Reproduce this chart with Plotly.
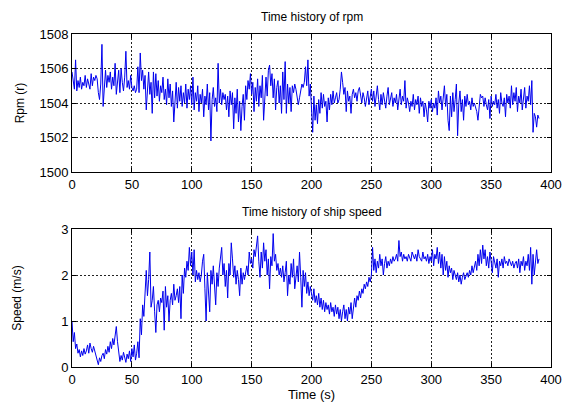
import plotly.graph_objects as go
from plotly.subplots import make_subplots

rpm = [
    1505.8, 1505.2, 1504.8, 1506.5, 1504.7, 1505.3, 1504.9, 1505.5, 1504.8, 1505.2,
    1505.0, 1505.6, 1504.9, 1505.4, 1505.1, 1504.8, 1505.7, 1505.0, 1505.5, 1505.3,
    1505.6, 1505.4, 1504.6, 1504.2, 1505.1, 1507.4, 1503.8, 1505.2, 1505.9, 1504.9,
    1505.6, 1505.2, 1505.8, 1504.8, 1505.5, 1505.0, 1506.3, 1504.5, 1505.4, 1505.9,
    1504.6, 1506.0, 1505.2, 1504.7, 1505.5, 1507.0, 1504.9, 1505.3, 1504.8, 1505.6,
    1504.9, 1504.7, 1505.0, 1504.6, 1504.8, 1506.1, 1504.6, 1506.9, 1505.3, 1505.9,
    1504.8, 1505.6, 1503.6, 1504.9, 1505.8, 1504.5, 1505.2, 1503.4, 1505.8, 1504.3,
    1505.7, 1504.4, 1505.3, 1504.1, 1505.0, 1504.6, 1505.5, 1504.2, 1504.8, 1503.9,
    1505.4, 1504.3, 1505.1, 1503.8, 1504.7, 1502.9, 1504.4, 1505.2, 1503.7, 1504.9,
    1504.1, 1505.0, 1503.8, 1504.6, 1504.0, 1505.1, 1503.7, 1504.8, 1504.2, 1505.0,
    1503.9, 1505.5, 1503.6, 1504.6, 1504.1, 1505.0, 1503.5, 1504.5, 1504.0, 1504.8,
    1503.2, 1504.4, 1503.9, 1505.1, 1503.6, 1504.6, 1501.8, 1504.2, 1504.9, 1503.8,
    1504.3, 1503.5, 1506.3, 1504.0, 1504.8, 1503.9, 1504.6, 1504.2, 1504.5, 1503.6,
    1504.4, 1503.2, 1504.7, 1503.9, 1504.6, 1502.5, 1504.3, 1503.4, 1504.8, 1502.9,
    1504.1, 1502.4, 1503.8, 1504.5, 1503.0, 1505.0, 1504.2, 1505.3, 1504.8, 1505.7,
    1504.5, 1505.2, 1503.5, 1504.9, 1504.1, 1505.4, 1503.8, 1505.0, 1504.3, 1505.6,
    1503.0, 1504.8, 1505.5, 1504.4, 1505.9, 1506.2, 1505.0, 1505.7, 1504.3, 1505.4,
    1503.6, 1504.9, 1505.3, 1504.0, 1505.0, 1503.4, 1505.8, 1504.2, 1506.4, 1503.4,
    1505.1, 1504.0, 1504.9, 1503.5, 1505.0, 1504.6, 1505.1, 1504.8, 1504.4, 1503.9,
    1504.3, 1504.7, 1505.1, 1504.9, 1505.2, 1506.1, 1505.0, 1506.5, 1504.4, 1505.1,
    1503.5, 1502.3, 1504.4, 1503.0, 1503.9, 1502.8, 1504.2, 1503.4, 1504.6, 1503.7,
    1504.5, 1503.8, 1504.1, 1502.9, 1504.3, 1503.6, 1504.5, 1503.9, 1504.7, 1504.0,
    1504.3, 1504.6, 1504.0, 1504.2, 1504.8, 1505.8, 1505.2, 1504.5, 1504.9, 1503.5,
    1504.7, 1504.1, 1504.4, 1503.4, 1504.5, 1504.8, 1504.3, 1504.6, 1504.1, 1504.7,
    1504.9, 1504.4, 1504.0, 1504.6, 1504.3, 1503.8, 1504.2, 1504.7, 1503.9, 1504.5,
    1504.8, 1504.1, 1504.7, 1503.8, 1504.4, 1505.0, 1504.2, 1503.6, 1504.5, 1503.9,
    1504.6, 1504.1, 1503.7, 1504.4, 1504.9, 1503.9, 1504.2, 1504.6, 1503.8, 1504.3,
    1504.0, 1504.5, 1503.6, 1504.2, 1504.8, 1503.9, 1504.4, 1504.1, 1505.3, 1503.7,
    1504.3, 1504.0, 1503.5, 1504.1, 1503.8, 1504.5, 1503.6, 1504.2, 1503.9, 1504.4,
    1503.4, 1504.3, 1503.8, 1504.1, 1503.2, 1504.0, 1503.6, 1502.9, 1504.1, 1503.7,
    1504.2, 1503.5, 1504.0, 1503.7, 1504.3, 1503.3, 1504.7, 1504.0, 1504.4, 1503.6,
    1504.2, 1505.0, 1503.8, 1504.5, 1503.0, 1502.4, 1504.4, 1503.2, 1504.6, 1503.5,
    1504.2, 1505.1, 1502.1, 1504.0, 1504.7, 1503.5, 1504.2, 1503.0, 1504.4, 1503.8,
    1504.5, 1503.9, 1504.1, 1503.6, 1504.3, 1503.8, 1504.0, 1503.7, 1503.5, 1503.0,
    1503.9, 1504.5, 1504.3, 1504.4, 1503.8, 1504.3, 1503.9, 1503.6, 1504.2, 1503.1,
    1504.4, 1503.8, 1504.1, 1503.9, 1504.5, 1503.7, 1504.2, 1503.4, 1504.6, 1504.0,
    1503.8, 1504.3, 1503.2, 1504.5, 1504.0, 1504.4, 1503.7, 1505.0, 1503.9, 1504.6,
    1504.1, 1504.9, 1503.5, 1504.4, 1504.0, 1504.8, 1503.6, 1504.3, 1504.9, 1503.7,
    1504.4, 1504.1, 1505.0, 1503.9, 1505.3, 1502.3, 1503.4, 1503.2, 1502.6, 1503.3,
    1503.1,
]

speed = [
    1.00, 0.55, 0.75, 0.40, 0.50, 0.30, 0.38, 0.22, 0.35, 0.25,
    0.40, 0.28, 0.35, 0.48, 0.30, 0.52, 0.40, 0.32, 0.45, 0.35,
    0.28, 0.18, 0.05, 0.20, 0.12, 0.25, 0.30, 0.18, 0.38, 0.28,
    0.45, 0.32, 0.55, 0.40, 0.62, 0.48, 0.75, 0.88, 0.55, 0.30,
    0.12, 0.25, 0.15, 0.32, 0.20, 0.10, 0.28, 0.18, 0.35, 0.12,
    0.40, 0.22, 0.48, 0.15, 0.30, 0.55, 0.20, 1.05, 0.70, 1.35,
    1.10, 1.50, 2.10, 1.55, 1.90, 2.50, 1.30, 1.45, 1.75, 1.20,
    0.75, 1.35, 1.45, 1.20, 1.50, 1.40, 1.65, 0.80, 1.75, 1.30,
    1.55, 1.00, 1.45, 1.60, 1.35, 1.80, 1.45, 1.55, 1.70, 1.40,
    1.75, 1.05, 2.00, 1.60, 2.15, 1.95, 2.30, 2.10, 2.60, 2.20,
    2.50, 2.00, 2.55, 1.85, 2.10, 1.90, 2.05, 1.85, 2.00, 2.30,
    2.45, 1.70, 1.00, 2.05, 1.45, 1.20, 2.10, 1.80, 2.20, 1.60,
    1.35, 2.05, 1.75, 2.15, 2.40, 2.60, 2.00, 2.25, 1.75, 2.10,
    1.50, 2.25, 2.00, 2.70, 2.35, 1.95, 2.20, 1.80, 2.10, 1.90,
    1.55, 2.15, 1.80, 2.05, 1.90, 2.05, 2.20, 2.00, 2.50, 2.25,
    2.35, 2.15, 2.55, 2.40, 2.60, 2.85, 2.30, 1.95, 2.50, 2.15,
    2.70, 2.30, 2.55, 2.00, 2.35, 1.70, 2.40, 2.20, 2.90, 2.30,
    2.45, 2.10, 2.25, 2.00, 2.15, 1.95, 2.20, 1.85, 2.05, 2.30,
    1.55, 2.00, 1.80, 2.25, 1.95, 2.35, 1.70, 2.05, 2.20, 1.85,
    2.50, 1.95, 1.30, 2.10, 1.75, 2.05, 1.60, 1.85, 1.55, 1.75,
    1.60, 1.45, 1.70, 1.40, 1.55, 1.35, 1.60, 1.30, 1.50, 1.25,
    1.45, 1.20, 1.40, 1.25, 1.35, 1.15, 1.40, 1.20, 1.30, 1.10,
    1.35, 1.15, 1.30, 1.05, 1.25, 1.00, 1.20, 1.35, 1.05, 1.25,
    1.00, 1.30, 1.15, 1.40, 1.05, 1.35, 1.50, 1.30, 1.55, 1.45,
    1.65, 1.50, 1.70, 1.60, 1.80, 1.70, 1.85, 1.75, 1.95, 1.85,
    2.00, 2.60, 2.10, 2.35, 2.05, 2.30, 2.15, 2.45, 2.20, 2.35,
    2.00, 2.25, 2.40, 2.15, 2.30, 2.20, 2.35, 2.25, 2.40, 2.30,
    2.35, 2.45, 2.30, 2.75, 2.40, 2.50, 2.30, 2.45, 2.35, 2.40,
    2.30, 2.45, 2.35, 2.30, 2.50, 2.40, 2.35, 2.45, 2.30, 2.55,
    2.40, 2.35, 2.30, 2.50, 2.35, 2.40, 2.30, 2.45, 2.25, 2.40,
    2.30, 2.55, 2.20, 2.45, 2.35, 2.60, 2.25, 2.50, 2.15, 2.45,
    2.00, 2.40, 2.10, 2.30, 1.95, 2.20, 2.05, 2.15, 1.90, 2.10,
    2.00, 1.90, 2.05, 1.85, 2.00, 1.80, 1.95, 2.05, 1.90, 2.00,
    2.05, 1.95, 2.10, 2.00, 2.20, 2.05, 2.15, 2.30, 2.10, 2.45,
    2.20, 2.55, 2.25, 2.65, 2.35, 2.55, 2.20, 2.40, 2.15, 2.50,
    2.30, 2.05, 2.40, 2.25, 2.15, 2.35, 1.95, 2.30, 2.20, 2.35,
    2.15, 2.40, 2.25, 2.30, 2.20, 2.35, 2.25, 2.20, 2.30, 2.15,
    2.25, 2.30, 2.15, 2.35, 2.05, 2.30, 2.20, 2.40, 2.10, 2.30,
    2.20, 2.45, 2.10, 2.60, 1.80, 2.45, 2.00, 2.35, 2.55, 2.25,
    2.35,
]

time_s = list(range(len(rpm)))

x_ticks = [0, 50, 100, 150, 200, 250, 300, 350, 400]
rpm_ticks = [1500, 1502, 1504, 1506, 1508]
speed_ticks = [0, 1, 2, 3]

titles = ["Time history of rpm", "Time history of ship speed"]
x_label = "Time (s)"
y_labels = ["Rpm (r)", "Speed (m/s)"]

FONT = "Liberation Sans, Arial, sans-serif"

fig = make_subplots(rows=2, cols=1, vertical_spacing=0.1712)
fig.add_trace(go.Scatter(x=time_s, y=rpm, mode="lines",
                         line=dict(color="#0000EE", width=1), showlegend=False), row=1, col=1)
fig.add_trace(go.Scatter(x=time_s[:len(speed)], y=speed, mode="lines",
                         line=dict(color="#0000EE", width=1), showlegend=False), row=2, col=1)

axis_common = dict(
    showline=True, linecolor="black", linewidth=1, mirror="ticks",
    ticks="inside", ticklen=4, tickcolor="black", automargin=False,
    showgrid=True, gridcolor="#222222", gridwidth=1, griddash="2px,2px",
    zeroline=False, tickfont=dict(family=FONT, size=13, color="black"),
)

fig.update_xaxes(range=[0, 400], tickvals=x_ticks, domain=[0, 1], **axis_common)
fig.update_xaxes(title_text=x_label, title_font=dict(family=FONT, size=13, color="black"),
                 title_standoff=6, row=2, col=1)
fig.update_yaxes(range=[1500, 1508], tickvals=rpm_ticks, domain=[0.5856, 1.0],
                 title_text=y_labels[0], title_standoff=12,
                 title_font=dict(family=FONT, size=12, color="black"), row=1, col=1, **axis_common)
fig.update_yaxes(range=[0, 3], tickvals=speed_ticks, domain=[0, 0.4144],
                 title_text=y_labels[1], title_standoff=36,
                 title_font=dict(family=FONT, size=12, color="black"), row=2, col=1, **axis_common)

fig.add_annotation(text=titles[0], xref="paper", yref="paper", x=0.5, y=1.0,
                   yshift=8, yanchor="bottom", showarrow=False,
                   font=dict(family=FONT, size=12, color="black"))
fig.add_annotation(text=titles[1], xref="paper", yref="paper", x=0.5, y=0.4144,
                   yshift=8, yanchor="bottom", showarrow=False,
                   font=dict(family=FONT, size=12, color="black"))

fig.update_layout(
    width=573, height=402,
    margin=dict(l=72, r=22, t=34, b=35),
    paper_bgcolor="white", plot_bgcolor="white",
    font=dict(family=FONT, color="black"),
)

fig.write_html("out.html")
